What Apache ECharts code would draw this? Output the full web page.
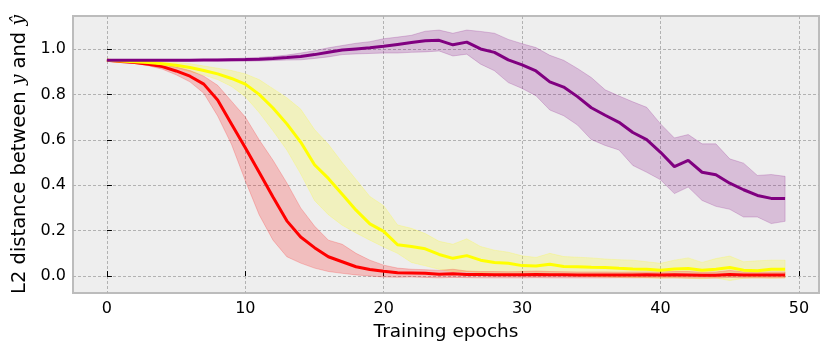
<!DOCTYPE html>
<html lang="en">
<head>
  <meta charset="UTF-8">
  <title>L2 distance</title>
  <style>
    html, body { margin: 0; padding: 0; background: #fff; }
    #main { width: 831px; height: 354px; }
  </style>
</head>
<body>
  <div id="main"></div>
  <script src="https://cdn.jsdelivr.net/npm/echarts@6/dist/echarts.min.js"></script>
  <script>
    // epochs 0..49
    var epochs = [];
    for (var i = 0; i < 50; i++) epochs.push(i);

    var xTicks = [0, 10, 20, 30, 40, 50];
    var yTicks = [0, 0.2, 0.4, 0.6, 0.8, 1.0];

    var redMean = [0.95, 0.945, 0.94, 0.933, 0.922, 0.903, 0.88, 0.845, 0.775, 0.67,
      0.565, 0.457, 0.348, 0.243, 0.172, 0.125, 0.085, 0.063, 0.041, 0.029,
      0.021, 0.015, 0.014, 0.012, 0.008, 0.01, 0.007, 0.007, 0.006, 0.006,
      0.006, 0.007, 0.006, 0.006, 0.005, 0.005, 0.005, 0.005, 0.005, 0.006,
      0.005, 0.006, 0.005, 0.004, 0.004, 0.007, 0.005, 0.005, 0.005, 0.005];
    var redUpper = [0.95, 0.947, 0.944, 0.94, 0.933, 0.92, 0.905, 0.88, 0.84, 0.77,
      0.7, 0.6, 0.51, 0.41, 0.3, 0.22, 0.158, 0.14, 0.1, 0.07,
      0.048, 0.035, 0.03, 0.028, 0.025, 0.03, 0.022, 0.02, 0.02, 0.019,
      0.02, 0.022, 0.02, 0.019, 0.018, 0.018, 0.018, 0.017, 0.018, 0.018,
      0.018, 0.02, 0.02, 0.017, 0.018, 0.025, 0.018, 0.017, 0.018, 0.018];
    var redLower = [0.95, 0.943, 0.936, 0.926, 0.911, 0.886, 0.855, 0.805, 0.705, 0.58,
      0.42, 0.27, 0.158, 0.085, 0.057, 0.035, 0.02, 0.012, 0.005, 0.0,
      -0.004, -0.005, -0.004, -0.006, -0.008, -0.006, -0.007, -0.008, -0.008, -0.008,
      -0.008, -0.007, -0.008, -0.008, -0.008, -0.008, -0.008, -0.007, -0.008, -0.007,
      -0.008, -0.008, -0.009, -0.009, -0.009, -0.006, -0.008, -0.008, -0.008, -0.008];

    var yellowMean = [0.95, 0.947, 0.944, 0.94, 0.935, 0.928, 0.918, 0.905, 0.89, 0.87,
      0.845, 0.8, 0.74, 0.67, 0.59, 0.49, 0.43, 0.36, 0.29, 0.23,
      0.197, 0.138, 0.13, 0.12, 0.095, 0.078, 0.09, 0.07, 0.06, 0.056,
      0.046, 0.044, 0.052, 0.042, 0.041, 0.039, 0.038, 0.034, 0.031, 0.03,
      0.026, 0.031, 0.033, 0.026, 0.03, 0.038, 0.026, 0.023, 0.03, 0.03];
    var yellowUpper = [0.95, 0.95, 0.948, 0.946, 0.943, 0.94, 0.935, 0.925, 0.915, 0.905,
      0.89, 0.865, 0.825, 0.785, 0.735, 0.645, 0.58, 0.5, 0.425, 0.35,
      0.31, 0.225, 0.21, 0.187, 0.153, 0.14, 0.164, 0.13, 0.114, 0.105,
      0.089, 0.082, 0.1, 0.086, 0.083, 0.08, 0.075, 0.072, 0.07, 0.063,
      0.056, 0.07, 0.08, 0.06, 0.077, 0.088, 0.063, 0.067, 0.07, 0.07];
    var yellowLower = [0.95, 0.944, 0.94, 0.934, 0.927, 0.916, 0.9, 0.885, 0.865, 0.835,
      0.79, 0.72, 0.64, 0.555, 0.45, 0.333, 0.27, 0.224, 0.19, 0.158,
      0.128, 0.1, 0.06, 0.045, 0.03, 0.02, 0.02, 0.015, 0.01, 0.008,
      0.005, 0.004, 0.005, 0.002, 0.0, -0.002, -0.004, -0.005, -0.006, -0.008,
      -0.01, -0.008, -0.01, -0.012, -0.008, -0.02, -0.01, -0.008, -0.01, -0.008];

    var purpleMean = [0.95, 0.95, 0.95, 0.95, 0.95, 0.95, 0.95, 0.951, 0.951, 0.952,
      0.953, 0.955, 0.958, 0.962, 0.967, 0.975, 0.985, 0.995, 1.0, 1.005,
      1.012, 1.02, 1.028, 1.036, 1.038, 1.018, 1.03, 1.0, 0.985, 0.952,
      0.93, 0.903, 0.855, 0.832, 0.79, 0.741, 0.708, 0.677, 0.632, 0.601,
      0.545, 0.482, 0.509, 0.457, 0.446, 0.409, 0.38, 0.355, 0.342, 0.341];
    var purpleUpper = [0.95, 0.95, 0.95, 0.95, 0.95, 0.951, 0.952, 0.953, 0.955, 0.957,
      0.96, 0.963, 0.967, 0.973, 0.982, 0.992, 1.005, 1.015, 1.025, 1.032,
      1.045, 1.052, 1.06, 1.078, 1.083, 1.069, 1.083, 1.077, 1.069, 1.042,
      1.023, 1.006, 0.972, 0.95, 0.914, 0.874, 0.82, 0.793, 0.767, 0.743,
      0.67, 0.608, 0.623, 0.582, 0.582, 0.516, 0.497, 0.443, 0.447, 0.439];
    var purpleLower = [0.95, 0.95, 0.95, 0.95, 0.95, 0.949, 0.948, 0.948, 0.947, 0.947,
      0.946, 0.947, 0.949, 0.951, 0.952, 0.958, 0.965, 0.975, 0.978, 0.98,
      0.982, 0.982, 0.985, 0.987, 0.991, 0.969, 0.977, 0.933, 0.904, 0.852,
      0.826, 0.794, 0.731, 0.706, 0.665, 0.601, 0.575, 0.555, 0.487, 0.457,
      0.424, 0.363, 0.392, 0.333, 0.307, 0.294, 0.26, 0.26, 0.231, 0.241];

    var groups = [
      { color: '#800080', fill: 'rgba(128,0,128,0.2)', mean: purpleMean, lo: purpleLower, hi: purpleUpper },
      { color: '#ffff00', fill: 'rgba(255,255,0,0.2)', mean: yellowMean, lo: yellowLower, hi: yellowUpper },
      { color: '#ff0000', fill: 'rgba(255,0,0,0.2)', mean: redMean, lo: redLower, hi: redUpper }
    ];

    var FONT = 'DejaVu Sans';

    function pairs(arr) {
      return arr.map(function (v, k) { return [epochs[k], v]; });
    }

    // whole band drawn as one polygon on the first data item
    function bandRenderer(g) {
      return function (params, api) {
        if (params.dataIndex !== 0) return;
        var pts = [];
        for (var k = 0; k < epochs.length; k++) pts.push(api.coord([epochs[k], g.hi[k]]));
        for (var k2 = epochs.length - 1; k2 >= 0; k2--) pts.push(api.coord([epochs[k2], g.lo[k2]]));
        return {
          type: 'polygon',
          shape: { points: pts },
          style: { fill: g.fill, stroke: g.fill, lineWidth: 1 }
        };
      };
    }

    var series = [];
    groups.forEach(function (g, gi) {
      series.push({
        type: 'custom',
        renderItem: bandRenderer(g),
        data: epochs.map(function (e, k) { return [e, g.lo[k], g.hi[k]]; }),
        encode: { x: 0, y: [1, 2] },
        silent: true, z: 1 + gi
      });
    });
    // mean lines, red first so purple ends on top
    [2, 1, 0].forEach(function (gi, n) {
      var g = groups[gi];
      series.push({
        type: 'line', data: pairs(g.mean), showSymbol: false, z: 10 + n,
        lineStyle: { width: 3, color: g.color }
      });
    });

    var myChart = echarts.init(document.getElementById('main'));
    var option = {
      animation: false,
      textStyle: { fontFamily: FONT },
      grid: {
        left: 73, top: 16, right: 12, bottom: 61,
        outerBoundsMode: 'none', containLabel: false,
        show: true, backgroundColor: '#eeeeee', borderColor: '#bcbcbc', borderWidth: 2
      },
      xAxis: {
        type: 'value', min: -2.45, max: 51.45,
        name: 'Training epochs', nameLocation: 'middle', nameGap: 30,
        nameTextStyle: { fontSize: 18.5, color: '#000', fontFamily: FONT },
        axisLine: { show: false },
        axisTick: { show: true, inside: true, length: 5, customValues: xTicks, lineStyle: { color: '#000', width: 1 } },
        axisLabel: { customValues: xTicks, fontSize: 16, color: '#000', margin: 8, fontFamily: FONT },
        splitLine: { show: true, lineStyle: { color: '#b2b2b2', type: [3, 2], width: 1 } }
      },
      yAxis: {
        type: 'value', min: -0.0746, max: 1.145,
        name: 'L2 distance between {i|y} and {i|ŷ}', nameLocation: 'middle', nameGap: 41, nameRotate: 90,
        nameTextStyle: {
          fontSize: 19.5, color: '#000', fontFamily: FONT,
          rich: { i: { fontStyle: 'italic', fontSize: 18.5, fontFamily: 'DejaVu Serif', color: '#000' } }
        },
        axisLine: { show: false },
        axisTick: { show: true, inside: true, length: 5, customValues: yTicks, lineStyle: { color: '#000', width: 1 } },
        axisLabel: {
          customValues: yTicks, fontSize: 16, color: '#000', margin: 7, fontFamily: FONT,
          formatter: function (v) { return v.toFixed(1); }
        },
        splitLine: { show: true, lineStyle: { color: '#b2b2b2', type: [3, 2], width: 1 } }
      },
      series: series
    };

    option && myChart.setOption(option);
  </script>
</body>
</html>
